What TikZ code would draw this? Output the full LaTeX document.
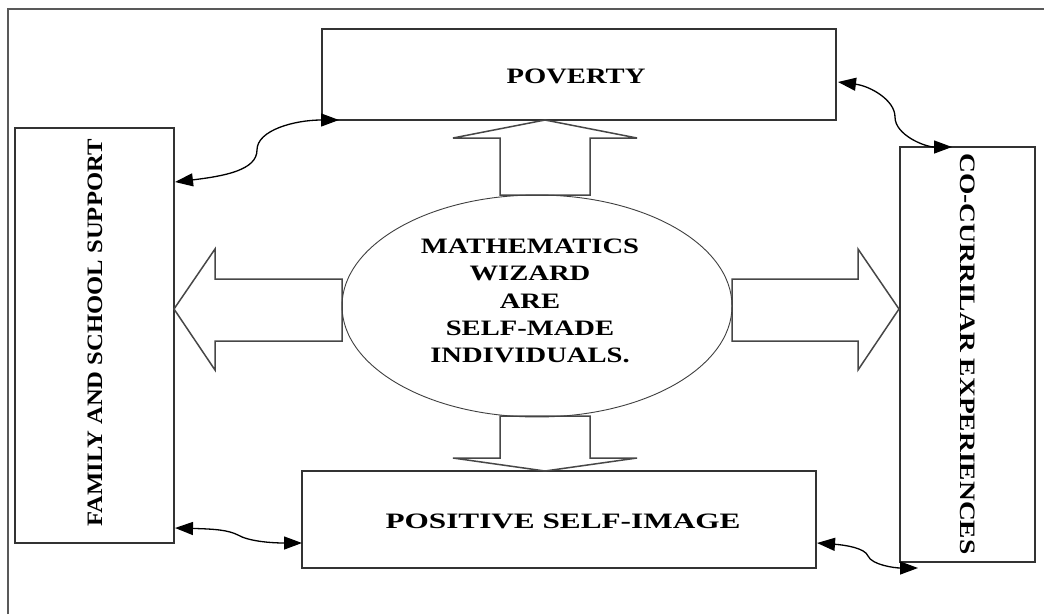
\documentclass[tikz,border=0pt]{standalone}
\usepackage{fontspec}
\usetikzlibrary{shapes.geometric,arrows.meta}
\newfontfamily\labelfont[FakeStretch=1.3]{Liberation Serif}
\newfontfamily\widefont[FakeStretch=1.42]{Liberation Serif}
\newfontfamily\famfont[FakeStretch=1.12]{Liberation Serif}
\newfontfamily\cocurfont[FakeStretch=1.25]{Liberation Serif}
\begin{document}
\begin{tikzpicture}[x=1pt,y=-1pt,
  box/.style={draw=black!80,line width=1.4pt,fill=white,inner sep=0pt},
  label/.style={font=\labelfont\bfseries\fontsize{22}{27.3}\selectfont,align=center,inner sep=0pt},
  blockarrow/.style={draw=black!72,line width=1.5pt,fill=white,line join=miter},
  link/.style={line width=1.3pt,{Triangle[length=18pt,width=13pt]}-{Triangle[length=18pt,width=13pt]}},
  frame/.style={draw=black!65,line width=2pt}]
\useasboundingbox (0,0) rectangle (1044,614);
\fill[white] (0,0) rectangle (1044,614);
% outer frame
\draw[frame] (8,614) -- (8,9) -- (1044,9);

% boxes
\node[box,minimum width=514pt,minimum height=91pt] (pov) at (579,74.5) {};
\node[box,minimum width=159pt,minimum height=415pt] (fam) at (94.5,335.5) {};
\node[box,minimum width=135pt,minimum height=415pt] (cocur) at (967.5,354.5) {};
\node[box,minimum width=514pt,minimum height=97pt] (self) at (559,519.5) {};

\node[label] (povtext) at (576,76) {POVERTY};
\node[label,font=\widefont\bfseries\fontsize{22}{27.3}\selectfont] (selftext) at (563,521) {POSITIVE SELF-IMAGE};
\node[label,font=\famfont\bfseries\fontsize{22}{27.3}\selectfont,rotate=90] (famtext) at (95,333) {FAMILY AND SCHOOL SUPPORT};
\node[label,font=\cocurfont\bfseries\fontsize{22}{27.3}\selectfont,rotate=-90] (cocurtext) at (967.5,354) {CO-CURRILAR EXPERIENCES};

% block arrows out of the central ellipse
\draw[blockarrow] (342,279) -- (215,279) -- (215,249) -- (174,309) -- (215,370) -- (215,341) -- (342,341) -- cycle;
\draw[blockarrow] (732,279) -- (858,279) -- (858,249) -- (899,309) -- (858,370) -- (858,341) -- (732,341) -- cycle;
\draw[blockarrow] (500,195) -- (500,138) -- (453,138) -- (545,120) -- (637,138) -- (590,138) -- (590,195) -- cycle;
\draw[blockarrow] (500,416) -- (500,458) -- (453,458) -- (545,471) -- (637,458) -- (590,458) -- (590,416) -- cycle;

% central ellipse
\node[ellipse,draw=black!75,line width=0.9pt,inner sep=0pt,
      minimum width=390pt,minimum height=222pt] (ell) at (537,306) {};
\node[label] (elltext) at (530,301) {MATHEMATICS\\WIZARD\\ARE\\SELF-MADE\\INDIVIDUALS.};

% two-headed links between the outer boxes
\coordinate (c1a) at (175,182);
\coordinate (c1b) at (339,120);
\draw[link] (c1a) .. controls (225,176) and (257,170) .. (257,150)
  .. controls (257,130) and (295,120) .. (c1b);
\coordinate (c2a) at (838,82);
\coordinate (c2b) at (952,147);
\draw[link] (c2a) .. controls (870,86) and (895,100) .. (895,117)
  .. controls (895,135) and (925,147) .. (c2b);
\coordinate (c3a) at (175,528);
\coordinate (c3b) at (302,543);
\draw[link] (c3a) .. controls (215,529) and (228,530) .. (238,535)
  .. controls (248,541) and (270,543) .. (c3b);
\coordinate (c4a) at (817,543);
\coordinate (c4b) at (918,568);
\draw[link] (c4a) .. controls (845,545) and (865,548) .. (868,556)
  .. controls (872,565) and (895,568) .. (c4b);
\end{tikzpicture}
\end{document}
